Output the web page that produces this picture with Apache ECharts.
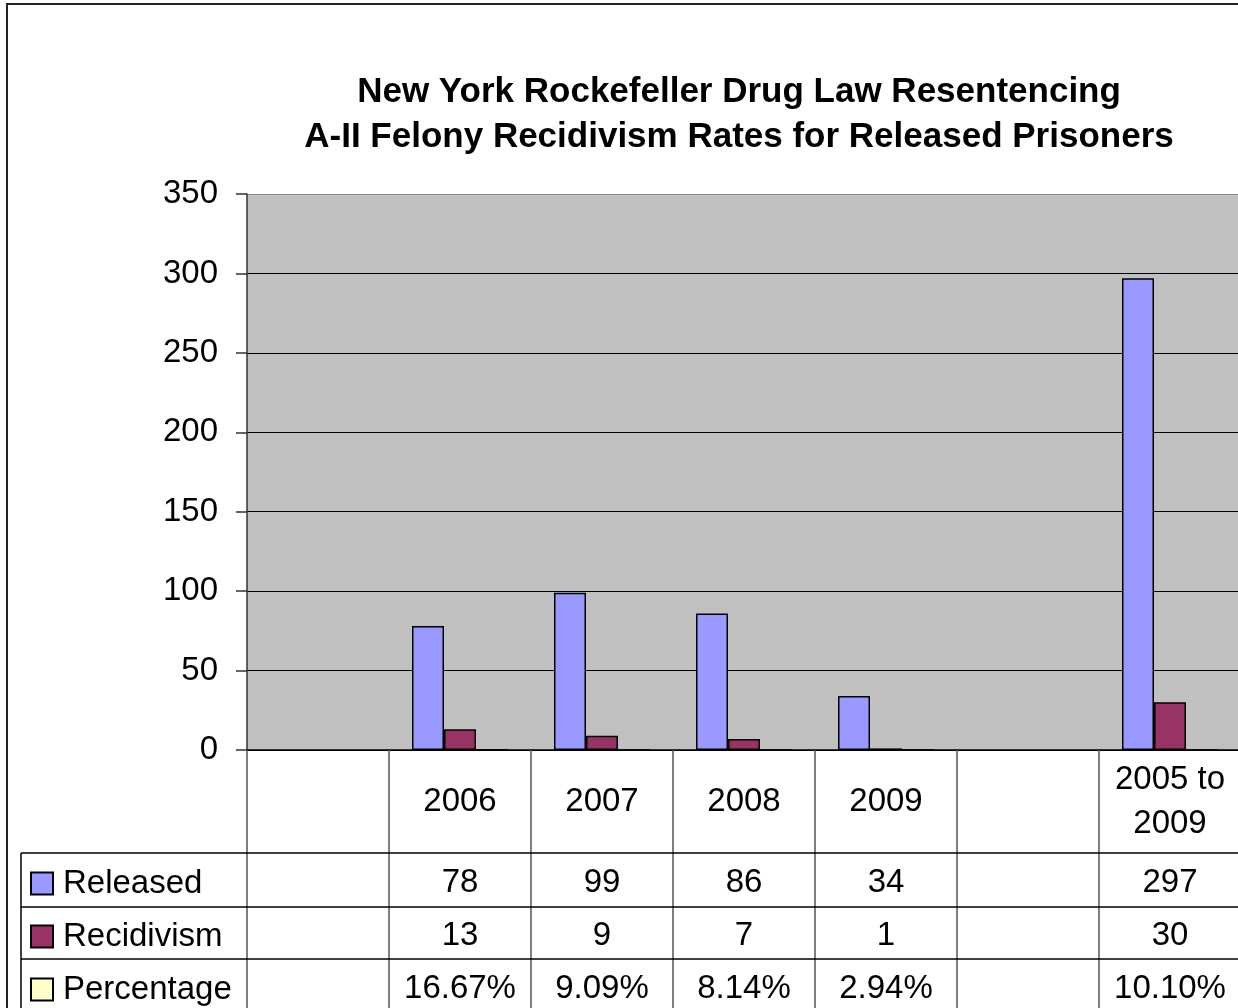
<!DOCTYPE html>
<html>
<head>
<meta charset="utf-8">
<script src="https://cdn.jsdelivr.net/npm/echarts@6/dist/echarts.min.js"></script>
<style>
html,body{margin:0;padding:0;background:#fff;overflow:hidden;width:1238px;height:1008px;}
#c{width:1244px;height:1008px;}
</style>
</head>
<body>
<div id="c"></div>
<script>
const categories = ["", "2006", "2007", "2008", "2009", "", "2005 to\n2009"];
const seriesNames = ["Released", "Recidivism", "Percentage"];
const released = [null, 78, 99, 86, 34, null, 297];
const recidivism = [null, 13, 9, 7, 1, null, 30];
const percentage = [null, 0.1667, 0.0909, 0.0814, 0.0294, null, 0.1010];
const yTicks = { min: 0, max: 350, interval: 50 };
const titleLines = ["New York Rockefeller Drug Law Resentencing", "A-II Felony Recidivism Rates for Released Prisoners"];

const FONT = "'Liberation Sans', Arial, sans-serif";
const chart = echarts.init(document.getElementById('c'));

function fmtPct(v) { return v == null ? '' : (v * 100).toFixed(2) + '%'; }
function fmtNum(v) { return v == null ? '' : String(v); }

function rowAxis(margin, fn) {
  return {
    type: 'category', position: 'bottom', data: categories, gridIndex: 0,
    axisLine: { show: false }, axisTick: { show: false }, splitLine: { show: false },
    axisLabel: {
      margin: margin, verticalAlign: 'middle', interval: 0,
      fontFamily: FONT, fontSize: 33, color: '#000',
      formatter: function (v, i) { return fn(i); }
    }
  };
}

function legendFor(name, top) {
  return {
    orient: 'vertical', left: 30, top: top, padding: 0,
    itemWidth: 22, itemHeight: 22, icon: 'rect', selectedMode: false,
    textStyle: { fontFamily: FONT, fontSize: 33, color: '#000', padding: [0, 0, 0, 5] },
    data: [name]
  };
}

const option = {
  animation: false,
  backgroundColor: '#fff',
  title: {
    text: titleLines.join('\n'),
    left: 739, top: 70, textAlign: 'center', padding: 0,
    textStyle: { fontFamily: FONT, fontSize: 35, fontWeight: 'bold', color: '#000', lineHeight: 45 }
  },
  legend: [legendFor(seriesNames[0], 867), legendFor(seriesNames[1], 920), legendFor(seriesNames[2], 973)],
  grid: { left: 247, top: 194, width: 994, height: 556, backgroundColor: '#C0C0C0', show: true, borderWidth: 0 },
  xAxis: [
    {
      type: 'category', data: categories, position: 'bottom',
      axisLine: { show: true, lineStyle: { color: '#000', width: 1.5 } },
      axisTick: { show: true, length: 258, alignWithLabel: false, interval: 0, lineStyle: { color: '#555', width: 1.5 } },
      axisLabel: { margin: 52, verticalAlign: 'middle', interval: 0, lineHeight: 44, fontFamily: FONT, fontSize: 33, color: '#000' },
      splitLine: { show: false }
    },
    rowAxis(133, i => fmtNum(released[i])),
    rowAxis(186, i => fmtNum(recidivism[i])),
    rowAxis(239, i => fmtPct(percentage[i]))
  ],
  yAxis: {
    type: 'value', min: yTicks.min, max: yTicks.max, interval: yTicks.interval,
    axisLine: { show: true, lineStyle: { color: '#333', width: 1.5 } },
    axisTick: { show: true, length: 11, inside: false, lineStyle: { color: '#333', width: 1.5 } },
    axisLabel: { margin: 29, fontFamily: FONT, fontSize: 33, color: '#000' },
    splitLine: { show: true, lineStyle: { color: ['#000', '#000', '#000', '#000', '#000', '#000', '#000', '#888'], width: 1 } }
  },
  series: [
    { name: seriesNames[0], type: 'bar', data: released, barGap: '0%', barCategoryGap: '32.4%',
      itemStyle: { color: '#9999FF', borderColor: '#000', borderWidth: 1.5 } },
    { name: seriesNames[1], type: 'bar', data: recidivism,
      itemStyle: { color: '#993366', borderColor: '#000', borderWidth: 1.5 } },
    { name: seriesNames[2], type: 'bar', data: percentage,
      itemStyle: { color: '#FFFFCC', borderColor: '#000', borderWidth: 1.5 } }
  ],
  graphic: [
    { type: 'rect', shape: { x: 7, y: 4, width: 1300, height: 1100 }, style: { fill: 'none', stroke: '#222', lineWidth: 2 }, silent: true, z: 100 },
    { type: 'line', shape: { x1: 21, y1: 853, x2: 1244, y2: 853 }, style: { stroke: '#000', lineWidth: 1.5 }, z: 100 },
    { type: 'line', shape: { x1: 21, y1: 907, x2: 1244, y2: 907 }, style: { stroke: '#000', lineWidth: 1.5 }, z: 100 },
    { type: 'line', shape: { x1: 21, y1: 959, x2: 1244, y2: 959 }, style: { stroke: '#000', lineWidth: 1.5 }, z: 100 },
    { type: 'line', shape: { x1: 21, y1: 853, x2: 21, y2: 1008 }, style: { stroke: '#000', lineWidth: 1.5 }, z: 100 }
  ]
};
chart.setOption(option);
</script>
</body>
</html>
